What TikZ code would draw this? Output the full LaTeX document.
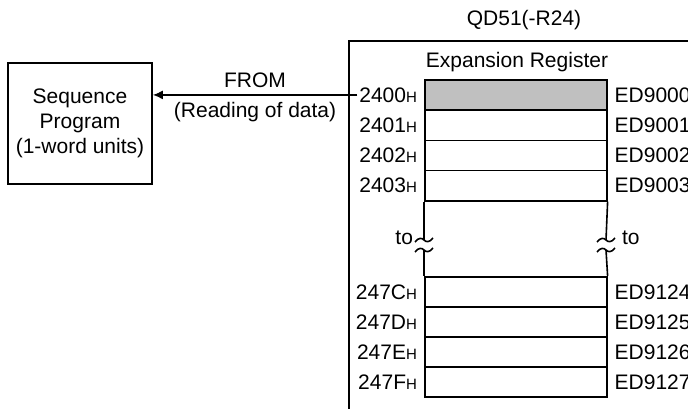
\documentclass[tikz,border=0pt]{standalone}
\usepackage{fontspec}
\setmainfont{Liberation Sans}
\usepackage{tikz}
\usetikzlibrary{arrows.meta, positioning}
\usepackage{xcolor}
\definecolor{cShade}{RGB}{192,192,192}
\newcommand{\regfont}{\fontsize{10.5}{12.5}\selectfont}
\newcommand{\hx}{{\fontsize{7.5}{8}\selectfont H}}
\tikzset{
  basebox/.style={rectangle, draw=black, line width=0.8pt,
                  align=center, font=\regfont},
  progbox/.style={basebox, minimum width=72pt, minimum height=60.5pt},
  modbox/.style={basebox, anchor=north west, minimum width=200pt,
                 minimum height=220pt},
  cellnode/.style={basebox, anchor=north west, minimum width=91pt,
                   minimum height=15.125pt, inner sep=0pt},
  textlabel/.style={font=\regfont},
  breakline/.style={line width=0.8pt},
  arrow/.style={-{Latex[length=5pt,width=4.5pt]}, line width=0.8pt}
}
\newcommand{\brkwave}[1]{%
  \draw[breakline] ([shift={(-9,2)}]#1) .. controls ([shift={(-5,-3)}]#1)
    and ([shift={(-2,-2)}]#1) .. (#1) .. controls ([shift={(2,2)}]#1)
    and ([shift={(5,3)}]#1) .. ([shift={(9,-2)}]#1);}

\begin{document}
\begin{tikzpicture}[x=0.5pt, y=-0.5pt]
  \useasboundingbox (0,0) rectangle (688,408);

  % ── Module ──
  \node[modbox] (module) at (348,40) {};
  \node[textlabel] (qd) at (524,20) {QD51(-R24)};
  \node[textlabel] (title) at (517,62) {Expansion Register};

  % ── Register cells ──
  \foreach \i/\y/\addr/\dev/\fl in {0/79/2400/ED9000/cShade,
      1/109.25/2401/ED9001/white, 2/139.5/2402/ED9002/white,
      3/169.75/2403/ED9003/white, 4/276/247C/ED9124/white,
      5/306/247D/ED9125/white, 6/336/247E/ED9126/white,
      7/366/247F/ED9127/white} {
    \node[cellnode, fill=\fl] (r\i) at (424,\y) {};
    \node[textlabel, left=0pt of r\i] (a\i) {\addr\hx};
    \node[textlabel, right=0pt of r\i] (d\i) {\dev};
  }

  % ── Omitted range ──
  \coordinate (wl1) at (424,240);
  \coordinate (wl2) at (424,250);
  \coordinate (wr1) at (606,240);
  \coordinate (wr2) at (606,250);
  \draw[breakline] (r3.south west) -- (wl1);
  \draw[breakline] (wl2) -- (r4.north west);
  \draw[breakline] (r3.south east) -- (wr1);
  \draw[breakline] (wr2) -- (r4.north east);
  \brkwave{wl1}
  \brkwave{wl2}
  \brkwave{wr1}
  \brkwave{wr2}
  \node[textlabel, left=2pt of wl1, yshift=1pt] (tol) {to};
  \node[textlabel, right=4.5pt of wr1, yshift=1pt] (tor) {to};

  % ── Program ──
  \node[progbox] (prog) at (80,123.5) {Sequence\\Program\\(1-word units)};

  \draw[arrow] ([xshift=2.5pt]a0.west) -- (a0.west -| prog.east)
    node[textlabel, midway, above] (from) {FROM}
    node[textlabel, midway, below] (reading) {(Reading of data)};

\end{tikzpicture}
\end{document}
